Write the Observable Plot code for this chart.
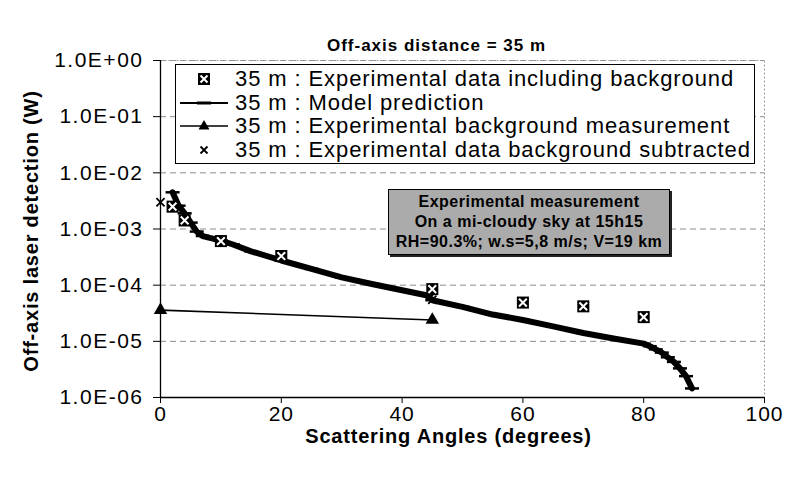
<!DOCTYPE html>
<html>
<head>
<meta charset="utf-8">
<script src="https://cdn.jsdelivr.net/npm/d3@7"></script>
<script src="https://cdn.jsdelivr.net/npm/@observablehq/plot@0.6"></script>
<style>
  body { margin: 0; background: #fff; font-family: "Liberation Sans", Arial, sans-serif; }
  #wrap { position: relative; width: 792px; height: 480px; overflow: hidden; }
  #wrap svg g[aria-label="y-axis tick label"] text { letter-spacing: 1.5px; }
  #wrap svg g[aria-label="x-axis tick label"] text { letter-spacing: 1px; }
  #legend { position: absolute; left: 175px; top: 64px; width: 580px; height: 100px;
            border: 1px solid #000; background: #fff; box-sizing: border-box; }
  .row { position: absolute; left: 0; height: 24px; display: flex; align-items: center;
         font-size: 22px; letter-spacing: 0.9px; color: #000; white-space: nowrap; }
  .row svg { width: 56px; height: 20px; margin-right: 3px; flex: none; }
  #note { position: absolute; left: 388px; top: 189px; width: 282px; height: 66px;
          background: #ababab; border: 1px solid #000; box-shadow: 2px 2px 0 #222;
          box-sizing: border-box; text-align: center; font-size: 16px; font-weight: bold;
          letter-spacing: 0.5px; line-height: 20px; padding-top: 2px; color: #000; }
</style>
</head>
<body>
<div id="wrap"></div>
<script>
// ---- data ----
const chartTitle = "Off-axis distance = 35 m";
const xTitle = "Scattering Angles (degrees)";
const yTitle = "Off-axis laser detection (W)";

const xTicks = [0, 20, 40, 60, 80, 100];
const yTicks = [1e-6, 1e-5, 1e-4, 1e-3, 1e-2, 1e-1, 1];

// 35 m : Experimental data including background
const expAngles = [2, 4, 10, 20, 45, 60, 70, 80];
const expValues = [2.5e-3, 1.42e-3, 6.1e-4, 3.3e-4, 8.5e-5, 4.9e-5, 4.2e-5, 2.7e-5];

// 35 m : Model prediction
const modelAngles = [2, 3, 4, 5, 6, 7, 8, 10, 12, 15, 20, 25, 30, 35, 40, 44, 45, 50, 55, 60, 65, 70, 75, 80, 81, 82, 83, 84, 85, 86, 87, 88];
const modelValues = [4.5e-3, 2.6e-3, 1.9e-3, 1.3e-3, 9e-4, 7.5e-4, 7e-4, 6.2e-4, 5.3e-4, 4.0e-4, 2.75e-4, 1.95e-4, 1.38e-4, 1.05e-4, 8.1e-5, 6.6e-5, 5.4e-5, 4.1e-5, 3.0e-5, 2.4e-5, 1.85e-5, 1.41e-5, 1.12e-5, 9.1e-6, 8.2e-6, 7.2e-6, 6.3e-6, 5.2e-6, 4.3e-6, 3.3e-6, 2.4e-6, 1.45e-6];

// 35 m : Experimental background measurement
const bgAngles = [0, 45];
const bgValues = [3.6e-5, 2.4e-5];

// 35 m : Experimental data background subtracted
const subAngles = [0, 45];
const subValues = [3.0e-3, 5.5e-5];

const legendLabels = [
  "35 m : Experimental data including background",
  "35 m : Model prediction",
  "35 m : Experimental background measurement",
  "35 m : Experimental data background subtracted"
];
const noteLines = [
  "Experimental measurement",
  "On a mi-cloudy sky at 15h15",
  "RH=90.3%; w.s=5,8 m/s; V=19 km"
];

// ---- build ----
const zip = (xs, ys) => xs.map((x, i) => ({x, y: ys[i]}));
const expData = zip(expAngles, expValues);
const modelData = zip(modelAngles, modelValues);
const bgData = zip(bgAngles, bgValues);
const subData = zip(subAngles, subValues);

const dash = { draw(ctx, size) { const r = Math.sqrt(size / Math.PI); ctx.moveTo(-r, 0); ctx.lineTo(r, 0); } };
const sci = d => { const e = Math.round(Math.log10(d)); return "1.0E" + (e < 0 ? "-" : "+") + String(Math.abs(e)).padStart(2, "0"); };

const plot = Plot.plot({
  width: 792,
  height: 480,
  marginLeft: 160,
  marginRight: 28,
  marginTop: 60,
  marginBottom: 83,
  style: { fontFamily: "'Liberation Sans', Arial, sans-serif", fontSize: "21px", color: "#000", background: "#fff", overflow: "visible" },
  x: { domain: [0, 100] },
  y: { type: "log", domain: [1e-6, 1] },
  marks: [
    Plot.gridY(yTicks, { stroke: "#8c8c8c", strokeOpacity: 1, strokeDasharray: "6,4" }),
    Plot.frame({ stroke: "#9a9a9a", strokeDasharray: "2,2" }),
    Plot.axisY({ ticks: yTicks, tickFormat: sci, tickSize: 7, tickPadding: 10, label: null }),
    Plot.axisX({ ticks: xTicks, tickSize: 6, tickPadding: 3, label: null }),
    Plot.ruleX([0], { stroke: "#000", strokeWidth: 1.3 }),
    Plot.ruleY([1e-6], { stroke: "#000", strokeWidth: 1.3 }),
    // background measurement
    Plot.line(bgData, { x: "x", y: "y", stroke: "#000", strokeWidth: 1.6 }),
    Plot.dot(bgData, { x: "x", y: "y", symbol: "triangle", r: 5, fill: "#000", stroke: "none" }),
    // model prediction
    Plot.line(modelData, { x: "x", y: "y", stroke: "#000", strokeWidth: 6 }),
    Plot.dot(modelData, { x: "x", y: "y", symbol: dash, r: 7, fill: "none", stroke: "#000", strokeWidth: 2.5 }),
    // experimental including background
    Plot.dot(expData, { x: "x", y: "y", symbol: "square", r: 6.8, fill: "#000", stroke: "none" }),
    Plot.dot(expData, { x: "x", y: "y", symbol: "times", r: 3.6, stroke: "#fff", strokeWidth: 2 }),
    // background subtracted
    Plot.dot(subData, { x: "x", y: "y", symbol: "times", r: 3.8, stroke: "#000", strokeWidth: 1.8 }),
    // titles
    Plot.text([chartTitle], { frameAnchor: "top", dx: -26, dy: -22, fontWeight: "bold", fontSize: 17 }),
    Plot.text([xTitle], { frameAnchor: "bottom", dx: -14, dy: 45, fontWeight: "bold", fontSize: 20 }),
    Plot.text([yTitle], { frameAnchor: "left", textAnchor: "middle", dx: -129, dy: 2, rotate: -90, fontWeight: "bold", fontSize: 20 })
  ]
});

const wrap = document.getElementById("wrap");
wrap.appendChild(plot);
// widen title texts slightly, like the reference's lettering
plot.querySelectorAll("text").forEach(t => {
  const s = t.textContent;
  if (s === chartTitle) t.style.letterSpacing = "1px";
  if (s === xTitle || s === yTitle) t.style.letterSpacing = "0.8px";
});

// legend
const legend = document.createElement("div");
legend.id = "legend";
const swatches = [
  `<rect x="22" y="4" width="12" height="12" fill="#000"/><path d="M24.5 6.5L31.5 13.5M31.5 6.5L24.5 13.5" stroke="#fff" stroke-width="2"/>`,
  `<line x1="4" y1="10" x2="52" y2="10" stroke="#000" stroke-width="2"/><line x1="21" y1="10" x2="35" y2="10" stroke="#000" stroke-width="3"/>`,
  `<line x1="4" y1="10" x2="52" y2="10" stroke="#000" stroke-width="1.6"/><path d="M28 4L33.5 13.5L22.5 13.5Z" fill="#000"/>`,
  `<path d="M24.5 6.5L31.5 13.5M31.5 6.5L24.5 13.5" stroke="#000" stroke-width="1.8"/>`
];
legendLabels.forEach((lab, i) => {
  const row = document.createElement("div");
  row.className = "row";
  row.style.top = (2 + i * 23.5) + "px";
  row.innerHTML = `<svg viewBox="0 0 56 20">${swatches[i]}</svg><span>${lab}</span>`;
  legend.appendChild(row);
});
wrap.appendChild(legend);

// annotation box
const note = document.createElement("div");
note.id = "note";
note.innerHTML = noteLines.map(t => `<div>${t}</div>`).join("");
wrap.appendChild(note);
</script>
</body>
</html>
